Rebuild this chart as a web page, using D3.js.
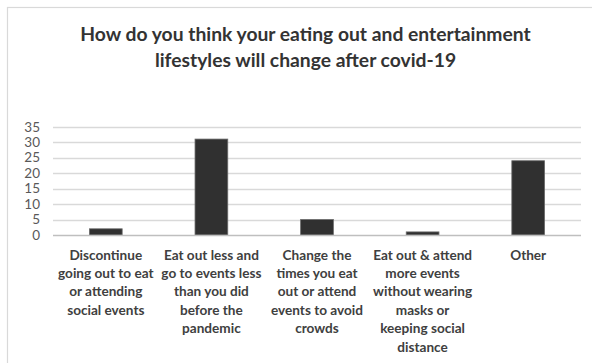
<!DOCTYPE html>
<html>
<head>
<meta charset="utf-8">
<script src="https://cdn.jsdelivr.net/npm/d3@7"></script>
<style>
  html, body { margin: 0; padding: 0; background: #fff; }
  svg { display: block; }
</style>
</head>
<body>
<svg id="chart" width="592" height="363"></svg>
<script>
// Survey responses: expected change in eating-out / entertainment habits
const categories = [
  ["Discontinue", "going out to eat", "or attending", "social events"],
  ["Eat out less and", "go to events less", "than you did", "before the", "pandemic"],
  ["Change the", "times you eat", "out or attend", "events to avoid", "crowds"],
  ["Eat out & attend", "more events", "without wearing", "masks or", "keeping social", "distance"],
  ["Other"]
];
const values = [2, 31, 5, 1, 24];
const yTicks = [0, 5, 10, 15, 20, 25, 30, 35];
const titleLines = [
  "How do you think your eating out and entertainment",
  "lifestyles will change after covid-19"
];

const font = "Lato, 'Open Sans', sans-serif";
const svg = d3.select("#chart");

// chart frame
svg.append("rect")
  .attr("x", 7.5).attr("y", 7.5)
  .attr("width", 600).attr("height", 400)
  .attr("fill", "#fff").attr("stroke", "#d9d9d9").attr("stroke-width", 1.2);

// title
svg.append("g").selectAll("text").data(titleLines).join("text")
  .attr("x", 305.5).attr("y", (d, i) => 41 + i * 26)
  .attr("text-anchor", "middle")
  .attr("font-family", font).attr("font-weight", 700).attr("font-size", 19.3)
  .attr("fill", "#333")
  .text(d => d);

const margin = { left: 53, right: 581, top: 126.7, bottom: 235 };

const x = d3.scaleBand()
  .domain(d3.range(values.length))
  .range([margin.left, margin.right])
  .paddingInner(0.69).paddingOuter(0.345);

const y = d3.scaleLinear().domain([0, 35]).range([margin.bottom, margin.top]);

// gridlines
svg.append("g").selectAll("line").data(yTicks.filter(t => t > 0)).join("line")
  .attr("x1", margin.left).attr("x2", margin.right)
  .attr("y1", d => Math.round(y(d)) + 0.5).attr("y2", d => Math.round(y(d)) + 0.5)
  .attr("stroke", "#d9d9d9").attr("stroke-width", 1.3);

// y-axis tick labels
const yAxis = d3.axisLeft(y).tickValues(yTicks).tickSize(0).tickPadding(0);
const gy = svg.append("g").attr("transform", `translate(40,0)`).call(yAxis);
gy.select(".domain").remove();
gy.selectAll("text")
  .attr("font-family", font).attr("font-size", 13.5).attr("fill", "#595959");

// bars
svg.append("g").selectAll("rect").data(values).join("rect")
  .attr("x", (d, i) => x(i))
  .attr("y", d => y(d))
  .attr("width", x.bandwidth())
  .attr("height", d => y(0) - y(d))
  .attr("fill", "#303030")
  .attr("stroke", "#6a6a6a").attr("stroke-width", 0.8);

// baseline
svg.append("line")
  .attr("x1", margin.left).attr("x2", margin.right)
  .attr("y1", Math.round(y(0)) + 0.5).attr("y2", Math.round(y(0)) + 0.5)
  .attr("stroke", "#bfbfbf").attr("stroke-width", 1.3);

// category labels
const xCenter = i => x(i) + x.bandwidth() / 2;
const gl = svg.append("g");
categories.forEach((lines, i) => {
  gl.append("text")
    .attr("text-anchor", "middle")
    .attr("font-family", font).attr("font-weight", 700).attr("font-size", 13.6)
    .attr("fill", "#404040")
    .selectAll("tspan").data(lines).join("tspan")
    .attr("x", xCenter(i))
    .attr("y", (d, j) => 259.5 + j * 18.4)
    .text(d => d);
});
</script>
</body>
</html>
